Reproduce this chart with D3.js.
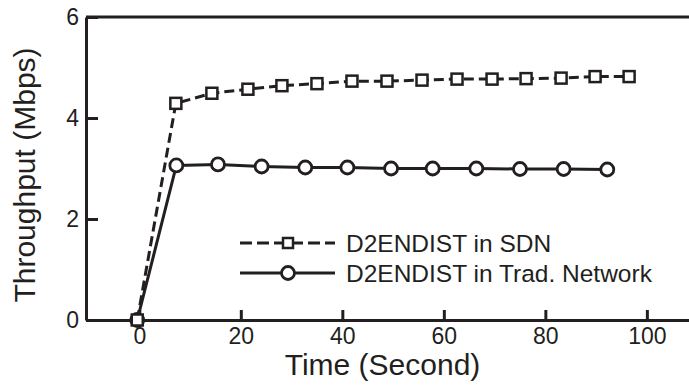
<!DOCTYPE html>
<html>
<head>
<meta charset="utf-8">
<script src="https://cdn.jsdelivr.net/npm/d3@7"></script>
<style>
  body { margin: 0; background: #fff; }
  svg { display: block; font-family: "Liberation Sans", Arial, sans-serif; }
</style>
</head>
<body>
<svg id="chart" width="689" height="387"></svg>
<script>
// data
const sdnTime = [-0.4, 7.2, 14.3, 21.4, 28.1, 35.0, 41.9, 48.8, 55.7, 62.6, 69.5, 76.2, 83.1, 89.8, 96.5];
const sdnThroughput = [0, 4.29, 4.49, 4.57, 4.64, 4.68, 4.73, 4.73, 4.75, 4.77, 4.77, 4.78, 4.79, 4.82, 4.82];
const tradTime = [-0.4, 7.3, 15.5, 24.1, 32.7, 41.0, 49.6, 57.8, 66.4, 75.0, 83.6, 92.2];
const tradThroughput = [0, 3.06, 3.08, 3.04, 3.02, 3.02, 3.00, 3.00, 3.00, 2.99, 2.99, 2.98];
const xTicks = [0, 20, 40, 60, 80, 100];
const yTicks = [0, 2, 4, 6];
const seriesNames = ["D2ENDIST in SDN", "D2ENDIST in Trad. Network"];

const svg = d3.select("#chart");
const plotLeft = 86, plotRight = 689, plotTop = 17, plotBottom = 320;

const x = d3.scaleLinear().domain([-10.5, 108.3]).range([plotLeft, plotRight]);
const y = d3.scaleLinear().domain([0, 6]).range([plotBottom, plotTop]);

const ink = "#231f20";

// axes, ticks pointing inward
const xAxis = d3.axisBottom(x).tickValues(xTicks).tickFormat(d3.format("d"))
  .tickSizeInner(-10).tickSizeOuter(0);
const yAxis = d3.axisLeft(y).tickValues(yTicks).tickFormat(d3.format("d"))
  .tickSizeInner(-12).tickSizeOuter(0);

const gx = svg.append("g").attr("transform", "translate(0," + plotBottom + ")").call(xAxis);
const gy = svg.append("g").attr("transform", "translate(" + plotLeft + ",0)").call(yAxis);

[gx, gy].forEach(g => {
  g.select(".domain").attr("stroke", ink).attr("stroke-width", 3);
  g.selectAll(".tick line").attr("stroke", ink).attr("stroke-width", 3);
  g.selectAll(".tick text").attr("fill", ink).style("font-size", "23px").style("font-family", "Liberation Sans, Arial, sans-serif");
});
gx.selectAll(".tick text").attr("dy", "0.71em").attr("y", 8);
gy.selectAll(".tick text").attr("x", -7);

// top frame line
svg.append("line")
  .attr("x1", plotLeft).attr("x2", plotRight)
  .attr("y1", y(6)).attr("y2", y(6))
  .attr("stroke", ink).attr("stroke-width", 3);

// axis titles
svg.append("text")
  .attr("x", (285 + 480) / 2).attr("y", 375)
  .attr("text-anchor", "middle")
  .attr("fill", ink)
  .style("font-size", "30px")
  .text("Time (Second)");

svg.append("text")
  .attr("transform", "translate(35,175) rotate(-90)")
  .attr("text-anchor", "middle")
  .attr("fill", ink)
  .style("font-size", "30px")
  .text("Throughput (Mbps)");

const line = d3.line().x(d => x(d[0])).y(d => y(d[1]));
const sdn = sdnTime.map((t, i) => [t, sdnThroughput[i]]);
const trad = tradTime.map((t, i) => [t, tradThroughput[i]]);

// trad network: solid line + circles
svg.append("path")
  .datum(trad)
  .attr("d", line)
  .attr("fill", "none")
  .attr("stroke", ink)
  .attr("stroke-width", 3);

svg.append("g").selectAll("circle")
  .data(trad)
  .enter().append("circle")
  .attr("cx", d => x(d[0]))
  .attr("cy", d => y(d[1]))
  .attr("r", 6.5)
  .attr("fill", "#fff")
  .attr("stroke", ink)
  .attr("stroke-width", 2.8);

// SDN: dashed line + squares
svg.append("path")
  .datum(sdn)
  .attr("d", line)
  .attr("fill", "none")
  .attr("stroke", ink)
  .attr("stroke-width", 3)
  .attr("stroke-dasharray", "10,5");

const sq = 11;
svg.append("g").selectAll("rect")
  .data(sdn)
  .enter().append("rect")
  .attr("x", d => x(d[0]) - sq / 2)
  .attr("y", d => y(d[1]) - sq / 2)
  .attr("width", sq)
  .attr("height", sq)
  .attr("fill", "#fff")
  .attr("stroke", ink)
  .attr("stroke-width", 2.5);

// legend
const legend = svg.append("g");
const rows = [243, 273];

legend.append("line")
  .attr("x1", 240).attr("x2", 335)
  .attr("y1", rows[0]).attr("y2", rows[0])
  .attr("stroke", ink).attr("stroke-width", 3)
  .attr("stroke-dasharray", "12,5");
legend.append("rect")
  .attr("x", 288 - 5).attr("y", rows[0] - 5)
  .attr("width", 10).attr("height", 10)
  .attr("fill", "#fff").attr("stroke", ink).attr("stroke-width", 2.5);

legend.append("line")
  .attr("x1", 240).attr("x2", 335)
  .attr("y1", rows[1]).attr("y2", rows[1])
  .attr("stroke", ink).attr("stroke-width", 3);
legend.append("circle")
  .attr("cx", 288).attr("cy", rows[1]).attr("r", 6.5)
  .attr("fill", "#fff").attr("stroke", ink).attr("stroke-width", 2.8);

legend.selectAll("text")
  .data(seriesNames)
  .enter().append("text")
  .attr("x", 346)
  .attr("y", (d, i) => rows[i] + 8.5)
  .attr("fill", ink)
  .style("font-size", "24.5px")
  .text(d => d);
</script>
</body>
</html>
